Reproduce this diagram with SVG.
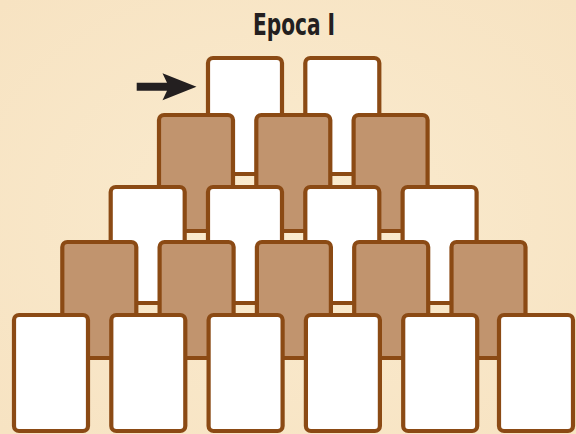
<svg xmlns="http://www.w3.org/2000/svg" width="576" height="434" viewBox="0 0 576 434">
<defs>
<style>
.card rect{stroke:#8B4A14;stroke-width:4.2}
.w rect{fill:#FFFFFF}
.b rect{fill:#C1946E}
.title{font-family:"Liberation Sans Narrow","DejaVu Sans Condensed","Liberation Sans",sans-serif;font-weight:bold;font-size:30px;fill:#231F20}
</style>
<radialGradient id="bg" cx="50%" cy="50%" r="70%">
<stop offset="0" stop-color="#FAEBCF"/>
<stop offset="1" stop-color="#F7E3C2"/>
</radialGradient>
</defs>
<rect width="576" height="434" fill="url(#bg)"/>
<text class="title" x="294" y="35" text-anchor="middle" textLength="82" lengthAdjust="spacingAndGlyphs">Epoca I</text>
<g id="cards">
<g id="r1c1" class="card w"><rect x="208" y="58" width="74" height="116" rx="5"/></g>
<g id="r1c2" class="card w"><rect x="305.3" y="58" width="74" height="116" rx="5"/></g>
<g id="r2c1" class="card b"><rect x="159" y="115" width="74" height="116" rx="5"/></g>
<g id="r2c2" class="card b"><rect x="256.3" y="115" width="74" height="116" rx="5"/></g>
<g id="r2c3" class="card b"><rect x="353.6" y="115" width="74" height="116" rx="5"/></g>
<g id="r3c1" class="card w"><rect x="110.7" y="187" width="74" height="116" rx="5"/></g>
<g id="r3c2" class="card w"><rect x="208" y="187" width="74" height="116" rx="5"/></g>
<g id="r3c3" class="card w"><rect x="305.3" y="187" width="74" height="116" rx="5"/></g>
<g id="r3c4" class="card w"><rect x="402.6" y="187" width="74" height="116" rx="5"/></g>
<g id="r4c1" class="card b"><rect x="62.3" y="242" width="74" height="116" rx="5"/></g>
<g id="r4c2" class="card b"><rect x="159.6" y="242" width="74" height="116" rx="5"/></g>
<g id="r4c3" class="card b"><rect x="256.9" y="242" width="74" height="116" rx="5"/></g>
<g id="r4c4" class="card b"><rect x="354.2" y="242" width="74" height="116" rx="5"/></g>
<g id="r4c5" class="card b"><rect x="451.5" y="242" width="74" height="116" rx="5"/></g>
<g id="r5c1" class="card w"><rect x="14" y="315" width="74" height="116" rx="5"/></g>
<g id="r5c2" class="card w"><rect x="111.3" y="315" width="74" height="116" rx="5"/></g>
<g id="r5c3" class="card w"><rect x="208.6" y="315" width="74" height="116" rx="5"/></g>
<g id="r5c4" class="card w"><rect x="305.9" y="315" width="74" height="116" rx="5"/></g>
<g id="r5c5" class="card w"><rect x="403.2" y="315" width="74" height="116" rx="5"/></g>
<g id="r5c6" class="card w"><rect x="499" y="315" width="74" height="116" rx="5"/></g>
</g>
<g id="connectors">
<path d="M136.7,82.8 H167 L162.5,73.3 L196.5,86.8 L162.5,100.3 L167,90.8 H136.7 Z" fill="#231F20"/>
</g>
</svg>
